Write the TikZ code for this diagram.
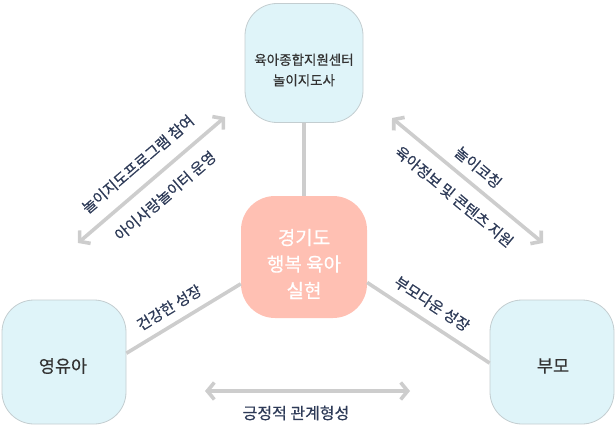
\documentclass[tikz,border=0pt]{standalone}
\usepackage{fontspec}
\setmainfont{Noto Sans CJK KR}[FakeBold=0.5]
\usetikzlibrary{arrows.meta,positioning}

\definecolor{boxfill}{HTML}{DFF4F9}
\definecolor{boxline}{HTML}{C3CDD0}
\definecolor{corefill}{HTML}{FFC0B3}
\definecolor{linkgray}{HTML}{CDCDCD}
\definecolor{labelnavy}{HTML}{2D3A57}

\begin{document}
\begin{tikzpicture}[x=1pt,y=-1pt,
  partner/.style={draw=boxline,line width=0.8pt,fill=boxfill,rounded corners=32pt,minimum width=118pt,minimum height=119pt,inner sep=0pt},
  core/.style={fill=corefill,rounded corners=34pt,minimum width=126pt,minimum height=122pt,inner sep=0pt},
  boxtext/.style={align=center,text=black!80},
  link/.style={draw=linkgray,line width=3.6pt},
  duallink/.style={link,{Straight Barb[length=7pt,width=17pt]}-{Straight Barb[length=7pt,width=17pt]}},
  tag/.style={text=labelnavy,font=\fontsize{15}{17}\selectfont,sloped,midway}]
\useasboundingbox (0,0) rectangle (616,425);

% boxes
\node[partner] (center) at (304,63) {};
\node[core] (core) at (304,257) {};
\node[partner,minimum width=124pt,minimum height=124pt] (youth) at (64,362) {};
\node[partner,minimum width=124pt,minimum height=124pt] (parent) at (552,362) {};

\node[boxtext,font=\fontsize{13.5}{20.5}\selectfont] (centerText) at (304,70) {육아종합지원센터\\놀이지도사};
\node[boxtext,text=white,font=\fontsize{19}{26.5}\selectfont] (coreText) at (304,264) {경기도\\행복 육아\\실현};
\node[boxtext,font=\fontsize{17.5}{20}\selectfont] (youthText) at (63,366) {영유아};
\node[boxtext,font=\fontsize{17.5}{20}\selectfont] (parentText) at (553,366) {부모};

% links to the core
\draw[link] (center) -- (core);
\draw[link] (core.203) -- (youth.8) node[tag,above=5pt,pos=0.55] {건강한 성장};
\draw[link] (core.338) -- (parent.181) node[tag,above=6pt,pos=0.45] {부모다운 성장};

% two-way arrows
\coordinate (leftA) at (78,243);
\coordinate (leftB) at (225,117);
\coordinate (rightA) at (392,118);
\coordinate (rightB) at (543,243);
\coordinate (bottomA) at (205,391);
\coordinate (bottomB) at (410,391);

\draw[duallink] (leftA) -- (leftB)
  node[tag,above=9pt] {놀이지도프로그램 참여}
  node[tag,below=9pt] {아이사랑놀이터 운영};
\draw[duallink] (rightA) -- (rightB)
  node[tag,above=5pt] {놀이코칭}
  node[tag,below=9pt] {육아정보 및 콘텐츠 지원};
\draw[duallink] (bottomA) -- (bottomB);
\node[text=labelnavy,font=\fontsize{16}{18}\selectfont] (bottomText) at (296,413) {긍정적 관계형성};
\end{tikzpicture}
\end{document}
